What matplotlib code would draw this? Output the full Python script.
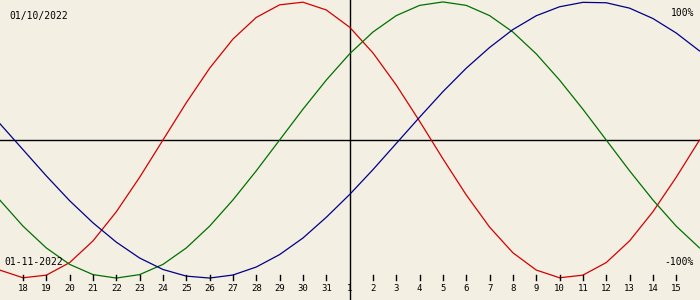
import numpy as np
import matplotlib
matplotlib.use("Agg")
import matplotlib.pyplot as plt

# day labels along the bottom (18 Oct .. 15 Nov)
day_labels = [18, 19, 20, 21, 22, 23, 24, 25, 26, 27, 28, 29, 30, 31,
              1, 2, 3, 4, 5, 6, 7, 8, 9, 10, 11, 12, 13, 14, 15]
month_start = 14  # index of day "1"

# curve values in %, one per day from 17 Oct (index -1) to 16 Nov (index 29)
physical = [-94.2, -99.8, -97.9, -88.8, -73.1, -52.0, -27.0, 0.0, 27.0, 52.0,
            73.1, 88.8, 97.9, 99.8, 94.2, 81.7, 63.1, 39.8, 13.6, -13.6,
            -39.8, -63.1, -81.7, -94.2, -99.8, -97.9, -88.8, -73.1, -52.0, -27.0, 0.0]
emotional = [-43.4, -62.4, -78.2, -90.1, -97.5, -100.0, -97.5, -90.1, -78.2, -62.4,
             -43.4, -22.3, 0.0, 22.3, 43.4, 62.4, 78.2, 90.1, 97.5, 100.0,
             97.5, 90.1, 78.2, 62.4, 43.4, 22.3, 0.0, -22.3, -43.4, -62.4, -78.2]
intellectual = [12.0, -7.0, -26.0, -44.0, -60.0, -74.0, -85.5, -93.8, -98.6, -100.0,
                -97.8, -92.0, -83.0, -71.0, -56.0, -39.5, -21.5, -2.5, 16.5, 35.0,
                52.0, 67.0, 80.0, 90.0, 96.5, 99.7, 99.4, 95.5, 88.0, 77.5, 64.5]

bg = "#f3efe3"
mono = "DejaVu Sans Mono"

fig = plt.figure(figsize=(7, 3), dpi=100, facecolor=bg)
ax = fig.add_axes([0, 0, 1, 1])
ax.set_facecolor(bg)
ax.set_xlim(-0.986, 29.02)
ax.set_ylim(-115.9, 101.4)
ax.axis("off")

x = np.arange(-1, len(physical) - 1)
ax.axhline(0, color="black", lw=1.0, zorder=1)
ax.axvline(month_start, color="black", lw=1.0, zorder=1)

ax.plot(x, physical, color="#d40000", lw=0.9, zorder=2)
ax.plot(x, emotional, color="#007000", lw=0.9, zorder=2)
ax.plot(x, intellectual, color="#000088", lw=0.9, zorder=2)

for i, d in enumerate(day_labels):
    if i != month_start:
        ax.plot([i, i], [-97.8, -101.4], color="black", lw=1.0)
    ax.text(i, -107.8, str(d), ha="center", va="center", fontsize=6.5, family=mono)

ax.text(9 / 700, 1 - 16 / 300, "01/10/2022", transform=ax.transAxes,
        ha="left", va="center", fontsize=7, family=mono)
ax.text(694 / 700, 1 - 13 / 300, "100%", transform=ax.transAxes,
        ha="right", va="center", fontsize=7, family=mono)
ax.text(4 / 700, 1 - 262 / 300, "01-11-2022", transform=ax.transAxes,
        ha="left", va="center", fontsize=7, family=mono)
ax.text(694 / 700, 1 - 262 / 300, "-100%", transform=ax.transAxes,
        ha="right", va="center", fontsize=7, family=mono)

fig.savefig("out.png", dpi=100, facecolor=bg)
